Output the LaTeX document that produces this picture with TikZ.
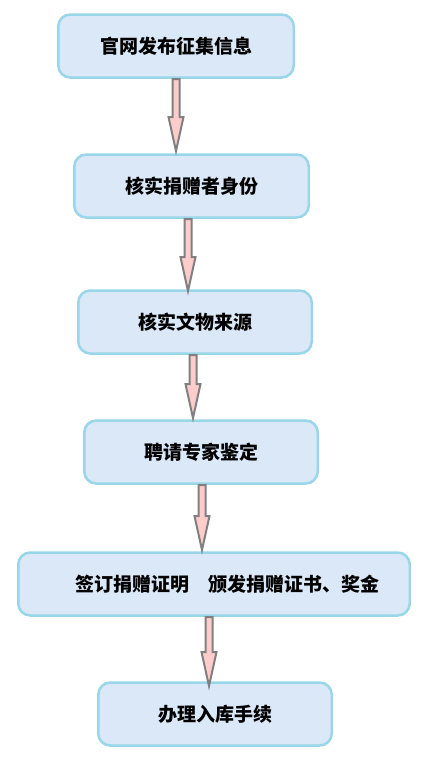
\documentclass[tikz,border=0pt]{standalone}
\usepackage{fontspec}
\newfontfamily\cjk{Noto Sans CJK SC}
\usetikzlibrary{calc}
\definecolor{boxfill}{RGB}{218,232,248}
\definecolor{boxline}{RGB}{153,214,232}
\definecolor{arrfill}{RGB}{255,204,204}
\definecolor{arrline}{RGB}{128,128,128}
\tikzset{
  stepbox/.style={draw=boxline, fill=boxfill, line width=2.5pt, rounded corners=12pt,
    minimum width=#1, minimum height=63pt, inner sep=0pt,
    font=\cjk\bfseries\fontsize{19}{23}\selectfont},
  blk/.style={draw=arrline, fill=arrfill, line width=2pt, line join=miter}
}
\newcommand\blockarrow[2]{%
  \draw[blk] ($(#1)+(-3.5,0)$) -- ($(#2)+(-3.5,34)$) -- ($(#2)+(-7.5,34)$) -- (#2)
    -- ($(#2)+(7.5,34)$) -- ($(#2)+(3.5,34)$) -- ($(#1)+(3.5,0)$) -- cycle;}
\begin{document}
\begin{tikzpicture}[x=1pt,y=1pt]
\useasboundingbox (0,0) rectangle (422,-779);
\node[stepbox=235.5pt] (b1) at (176,-46) {官网发布征集信息};
\node[stepbox=234.5pt] (b2) at (191.5,-186) {核实捐赠者身份};
\node[stepbox=233.5pt] (b3) at (195,-322) {核实文物来源};
\node[stepbox=233.5pt] (b4) at (201,-452) {聘请专家鉴定};
\node[stepbox=391.5pt] (b5) at (214,-584) {\hspace*{28pt}签订捐赠证明　颁发捐赠证书、奖金};
\node[stepbox=233.5pt] (b6) at (215,-714) {办理入库手续};
\coordinate (s1) at (176,-79);  \coordinate (e1) at (176,-151);
\coordinate (s2) at (188,-219); \coordinate (e2) at (188,-291);
\coordinate (s3) at (193,-355); \coordinate (e3) at (193,-418);
\coordinate (s4) at (202,-485); \coordinate (e4) at (202,-550);
\coordinate (s5) at (209,-617); \coordinate (e5) at (209,-686);
\blockarrow{s1}{e1}
\blockarrow{s2}{e2}
\blockarrow{s3}{e3}
\blockarrow{s4}{e4}
\blockarrow{s5}{e5}
\end{tikzpicture}
\end{document}
